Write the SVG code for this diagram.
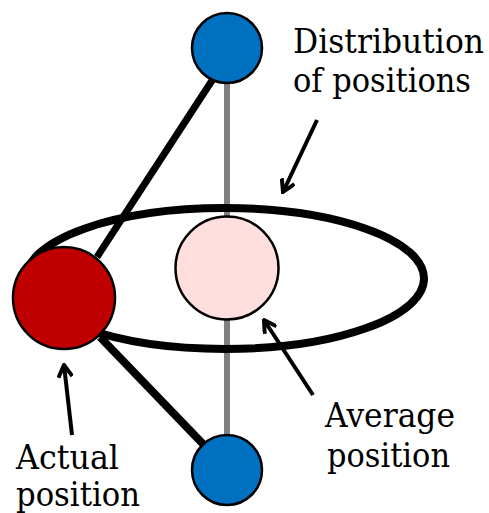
<svg xmlns="http://www.w3.org/2000/svg" width="489" height="513" viewBox="0 0 489 513">
<style>
text{font-family:'DejaVu Serif','Liberation Serif',serif;font-size:34px;fill:#000}
.sm{font-size:32px}
.node{stroke:#000;stroke-width:2.5}
.arrow{fill:none;stroke:#000;stroke-width:4;stroke-linecap:butt}
</style>
<defs>
<marker id="ah" viewBox="0 0 16 16" refX="14" refY="8" markerWidth="16" markerHeight="16" markerUnits="userSpaceOnUse" orient="auto">
<path d="M2,1 L14,8 L2,15" fill="none" stroke="#000" stroke-width="4" stroke-linejoin="miter"/>
</marker>
</defs>
<rect width="489" height="513" fill="#fff"/>
<g id="connectors">
<line x1="227" y1="48" x2="227" y2="470" stroke="#808080" stroke-width="6"/>
<line x1="213" y1="79" x2="97" y2="257" stroke="#000" stroke-width="7"/>
<line x1="100" y1="337" x2="203" y2="444" stroke="#000" stroke-width="8"/>
<line class="arrow" x1="317" y1="120" x2="283" y2="192" marker-end="url(#ah)"/>
<line class="arrow" x1="313" y1="395" x2="264" y2="320" marker-end="url(#ah)"/>
<line class="arrow" x1="72" y1="435" x2="64" y2="365" marker-end="url(#ah)"/>
</g>
<g id="distribution">
<ellipse cx="225" cy="278.5" rx="199" ry="70.5" fill="none" stroke="#000" stroke-width="8"/>
</g>
<g id="top-node"><circle class="node" cx="227" cy="48" r="35" fill="#0070C0"/></g>
<g id="bottom-node"><circle class="node" cx="227" cy="470" r="35" fill="#0070C0"/></g>
<g id="average-node"><circle class="node" cx="227" cy="268" r="51.5" fill="#FFDEDE"/></g>
<g id="actual-node"><circle class="node" cx="64" cy="298" r="51" fill="#C00000"/></g>
<g id="labels">
<text class="sm" transform="translate(293,53) scale(1,1.06)" x="0" y="0" font-family="DejaVu Serif, Liberation Serif, serif" textLength="191" lengthAdjust="spacingAndGlyphs">Distribution</text>
<text class="sm" transform="translate(293,92) scale(1,1.06)" x="0" y="0" font-family="DejaVu Serif, Liberation Serif, serif" textLength="178" lengthAdjust="spacingAndGlyphs">of positions</text>
<text x="325" y="427" font-family="DejaVu Serif, Liberation Serif, serif" textLength="130" lengthAdjust="spacingAndGlyphs">Average</text>
<text x="327" y="467" font-family="DejaVu Serif, Liberation Serif, serif" textLength="123" lengthAdjust="spacingAndGlyphs">position</text>
<text x="16" y="469" font-family="DejaVu Serif, Liberation Serif, serif" textLength="103" lengthAdjust="spacingAndGlyphs">Actual</text>
<text x="16" y="506" font-family="DejaVu Serif, Liberation Serif, serif" textLength="124" lengthAdjust="spacingAndGlyphs">position</text>
</g>
</svg>
